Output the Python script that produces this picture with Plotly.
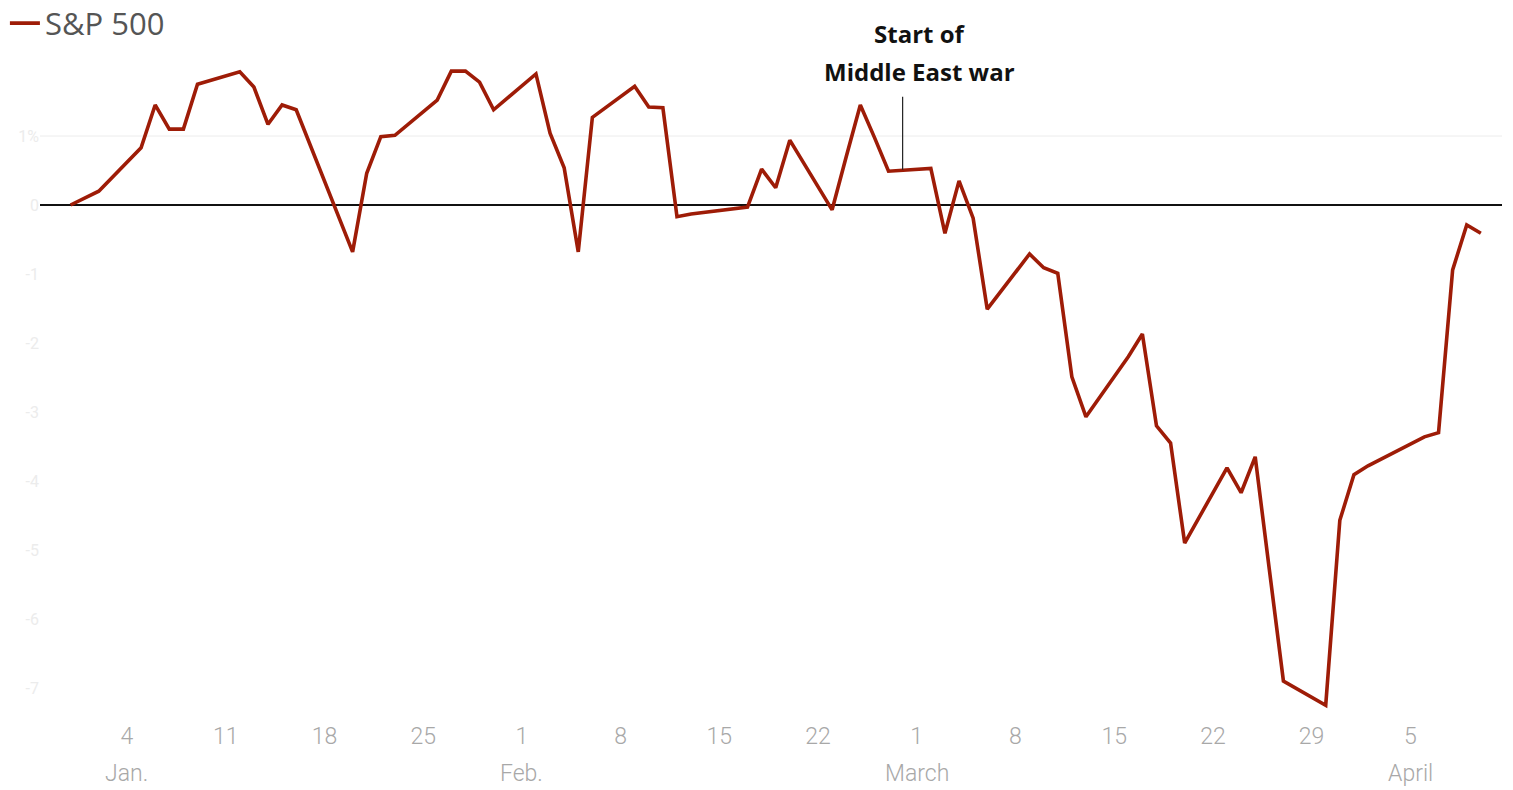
import plotly.graph_objects as go

# ---- data ----
dates = [
    "2025-12-31", "2026-01-02", "2026-01-05", "2026-01-06", "2026-01-07", "2026-01-08", "2026-01-09",
    "2026-01-12", "2026-01-13", "2026-01-14", "2026-01-15", "2026-01-16",
    "2026-01-20", "2026-01-21", "2026-01-22", "2026-01-23",
    "2026-01-26", "2026-01-27", "2026-01-28", "2026-01-29", "2026-01-30",
    "2026-02-02", "2026-02-03", "2026-02-04", "2026-02-05", "2026-02-06",
    "2026-02-09", "2026-02-10", "2026-02-11", "2026-02-12", "2026-02-13",
    "2026-02-17", "2026-02-18", "2026-02-19", "2026-02-20",
    "2026-02-23", "2026-02-24", "2026-02-25", "2026-02-26", "2026-02-27",
    "2026-03-02", "2026-03-03", "2026-03-04", "2026-03-05", "2026-03-06",
    "2026-03-09", "2026-03-10", "2026-03-11", "2026-03-12", "2026-03-13",
    "2026-03-16", "2026-03-17", "2026-03-18", "2026-03-19", "2026-03-20",
    "2026-03-23", "2026-03-24", "2026-03-25", "2026-03-26", "2026-03-27",
    "2026-03-30", "2026-03-31", "2026-04-01", "2026-04-02",
    "2026-04-06", "2026-04-07", "2026-04-08", "2026-04-09", "2026-04-10",
]
sp500_pct = [
    0.00, 0.20, 0.83, 1.45, 1.10, 1.10, 1.75,
    1.93, 1.71, 1.17, 1.45, 1.38,
    -0.68, 0.46, 0.99, 1.01,
    1.52, 1.94, 1.94, 1.78, 1.38,
    1.90, 1.04, 0.54, -0.68, 1.27,
    1.72, 1.42, 1.41, -0.17, -0.13,
    -0.03, 0.52, 0.25, 0.94,
    -0.07, 0.70, 1.45, 0.98, 0.49,
    0.53, -0.41, 0.35, -0.19, -1.51,
    -0.71, -0.91, -0.99, -2.49, -3.07,
    -2.20, -1.87, -3.20, -3.45, -4.90,
    -3.81, -4.17, -3.65, -5.28, -6.90,
    -7.25, -4.57, -3.91, -3.78,
    -3.36, -3.30, -0.94, -0.29, -0.41,
]

x_tick_dates = ["2026-01-04", "2026-01-11", "2026-01-18", "2026-01-25", "2026-02-01", "2026-02-08",
                "2026-02-15", "2026-02-22", "2026-03-01", "2026-03-08", "2026-03-15", "2026-03-22",
                "2026-03-29", "2026-04-05"]
x_tick_labels = ["4", "11", "18", "25", "1", "8", "15", "22", "1", "8", "15", "22", "29", "5"]
month_dates = ["2026-01-04", "2026-02-01", "2026-03-01", "2026-04-05"]
month_labels = ["Jan.", "Feb.", "March", "April"]

y_tick_vals = [1, 0, -1, -2, -3, -4, -5, -6, -7]
y_tick_labels = ["1%", "0", "-1", "-2", "-3", "-4", "-5", "-6", "-7"]

event_date = "2026-02-28"
event_value = 0.51
event_line_top = 1.57
event_text_1 = "Start of"
event_text_2 = "Middle East war"
series_name = "S&P 500"

LINE_COLOR = "#9e1c07"

fig = go.Figure()
fig.add_trace(go.Scatter(
    x=dates, y=sp500_pct, mode="lines", name=series_name,
    line=dict(color=LINE_COLOR, width=3.6),
))

# faint 1% gridline
fig.add_shape(type="line", xref="paper", x0=0, x1=1, yref="y", y0=1, y1=1,
              line=dict(color="#ececec", width=1), layer="below")

# event marker
fig.add_shape(type="line", xref="x", x0=event_date, x1=event_date, yref="y",
              y0=event_value, y1=event_line_top, line=dict(color="#222222", width=1.2))

fig.add_annotation(x=event_date, y=1.0, xref="x", yref="paper",
                   text=f"<b>{event_text_1}</b>", showarrow=False,
                   font=dict(family="Open Sans", size=24, color="#111111"),
                   xanchor="center", yanchor="middle", xshift=17, yshift=22)
fig.add_annotation(x=event_date, y=1.0, xref="x", yref="paper",
                   text=f"<b>{event_text_2}</b>", showarrow=False,
                   font=dict(family="Open Sans", size=24, color="#111111"),
                   xanchor="center", yanchor="middle", xshift=17, yshift=-16)

for d, m in zip(month_dates, month_labels):
    fig.add_annotation(x=d, y=0, xref="x", yref="paper", text=m, showarrow=False,
                       font=dict(family="Roboto", size=23, color="#a8a8a8", weight=300),
                       xanchor="center", yanchor="middle", yshift=-53)

fig.update_layout(
    width=1513, height=790,
    margin=dict(l=40, r=11, t=55, b=70, autoexpand=False),
    paper_bgcolor="white", plot_bgcolor="white",
    showlegend=True,
    legend=dict(x=-0.024, y=1.088, xanchor="left", yanchor="top",
                font=dict(family="Open Sans", size=31, color="#555555"),
                itemwidth=30, bgcolor="rgba(0,0,0,0)"),
    xaxis=dict(
        range=["2025-12-28 20:00", "2026-04-11 12:00"],
        tickmode="array", tickvals=x_tick_dates, ticktext=x_tick_labels,
        showgrid=False, zeroline=False, showline=False, ticks="",
        automargin=False,
        tickfont=dict(family="Roboto", size=23, color="#a8a8a8", weight=300),
    ),
    yaxis=dict(
        range=[-7.464, 2.174],
        tickmode="array", tickvals=y_tick_vals, ticktext=y_tick_labels,
        showgrid=False, zeroline=True, zerolinecolor="#111111", zerolinewidth=2,
        showline=False, ticks="", automargin=False,
        tickfont=dict(family="Roboto", size=16, color="#ececec"),
    ),
)

fig.write_html("out.html")
